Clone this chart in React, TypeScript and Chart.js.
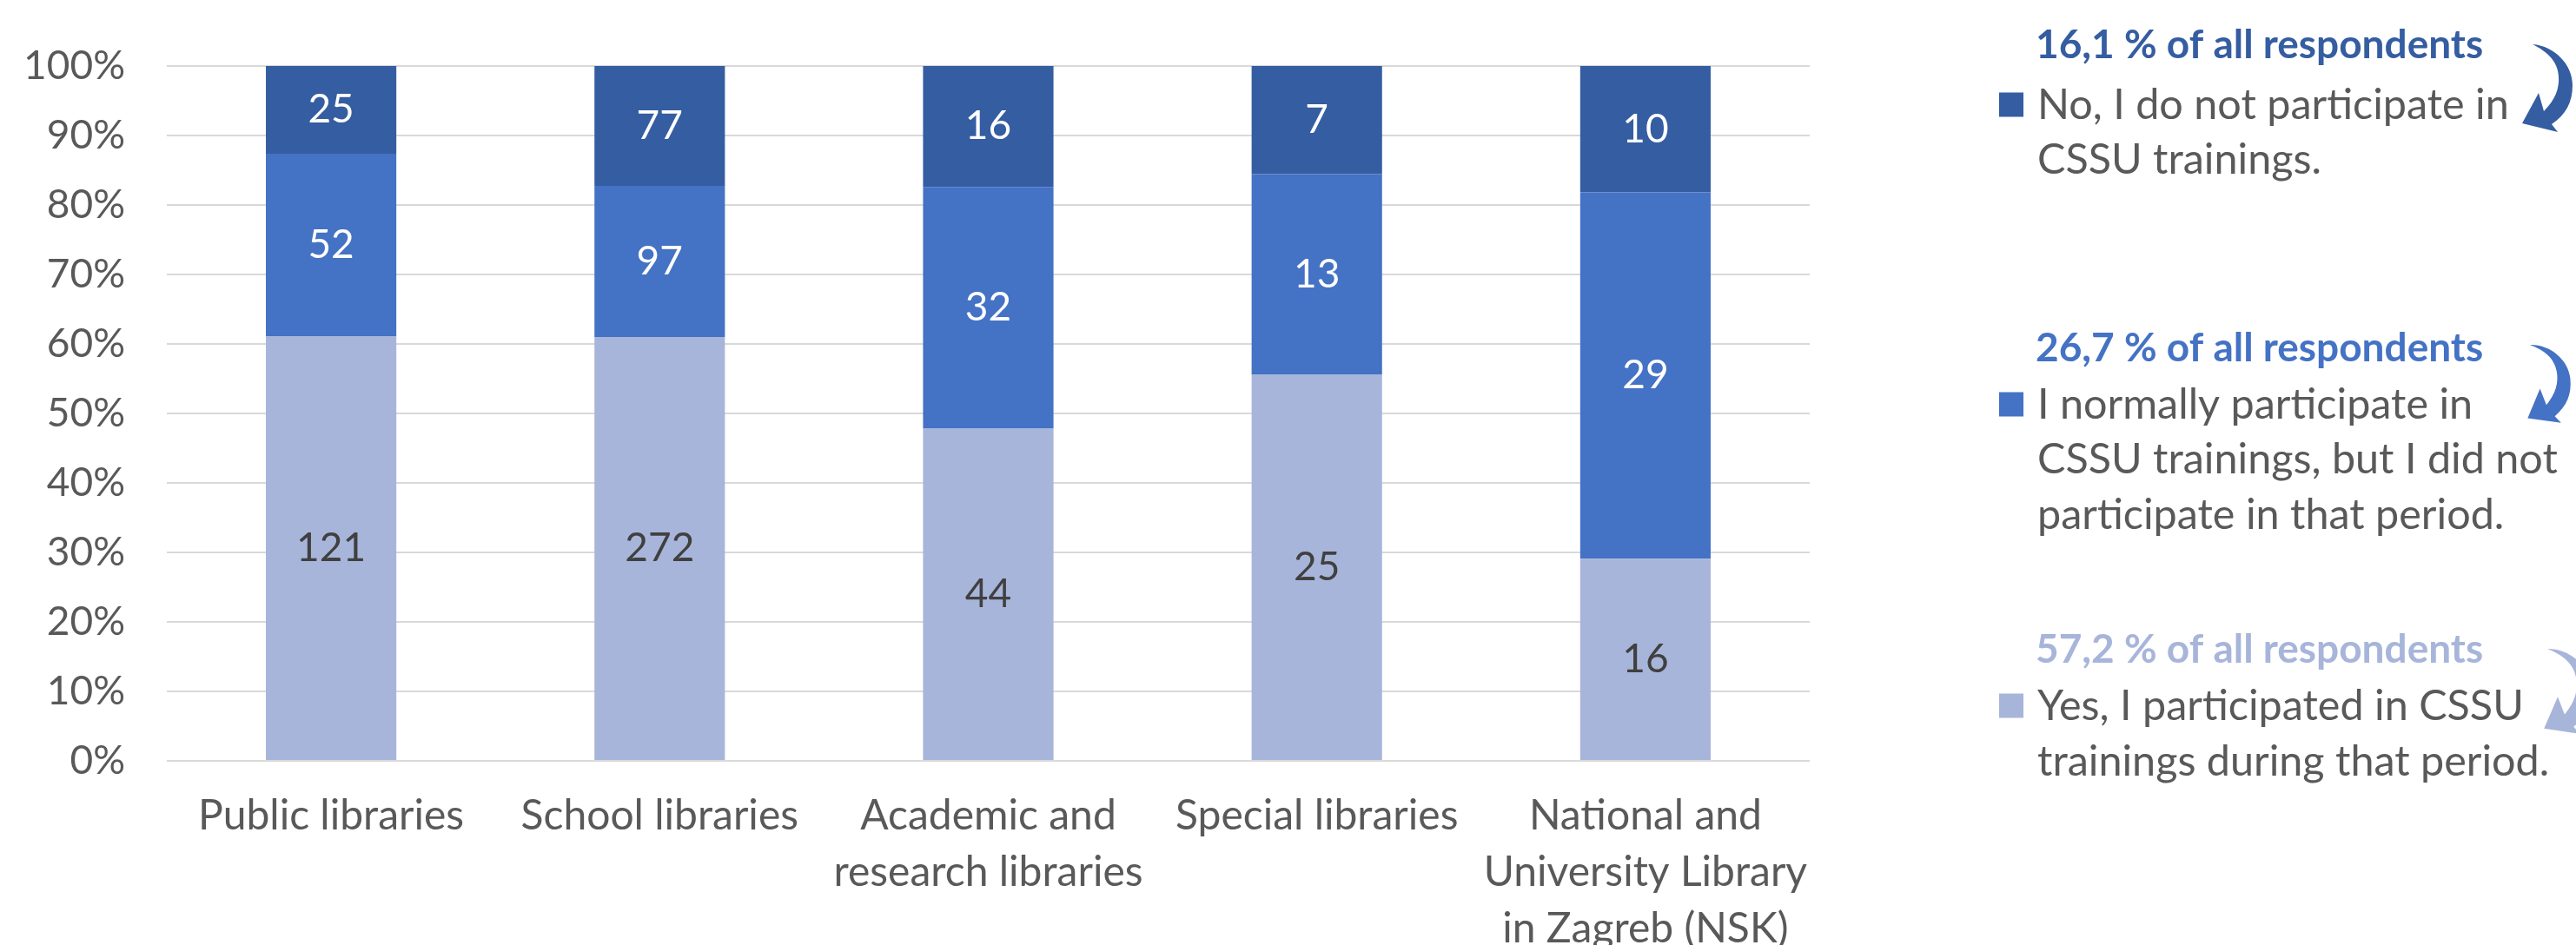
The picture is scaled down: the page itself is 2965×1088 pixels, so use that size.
import React, { useEffect, useRef } from "react";
import { Chart, registerables } from "chart.js";

Chart.register(...registerables);

// ---------- data ----------
const categories: (string | string[])[] = [
  "Public libraries",
  "School libraries",
  ["Academic and", "research libraries"],
  "Special libraries",
  ["National and", "University Library", "in Zagreb (NSK)"],
];
const yesCounts = [121, 272, 44, 25, 16];
const normallyCounts = [52, 97, 32, 13, 29];
const noCounts = [25, 77, 16, 7, 10];

const yesLabel = "Yes, I participated in CSSU trainings during that period.";
const normallyLabel = "I normally participate in CSSU trainings, but I did not participate in that period.";
const noLabel = "No, I do not participate in CSSU trainings.";

const noLegendLines = ["No, I do not participate in", "CSSU trainings."];
const normallyLegendLines = ["I normally participate in", "CSSU trainings, but I did not", "participate in that period."];
const yesLegendLines = ["Yes, I participated in CSSU", "trainings during that period."];

const yTickStep = 10;
const yMax = 100;

// ---------- styles ----------
const COLOR_NO = "#355DA1";
const COLOR_NORMALLY = "#4472C4";
const COLOR_YES = "#A8B5DA";
const TEXT_GRAY = "#595959";
const LABEL_DARK = "#404040";
const FONT = "Lato";
const FONT_SIZE = 46;
const CAT_FONT_SIZE = 48;
const CAT_LINE_HEIGHT = 65;
const LEGEND_FONT_SIZE = 48.5;

const totals = categories.map((_, i) => yesCounts[i] + normallyCounts[i] + noCounts[i]);
const pct = (arr: number[]) => arr.map((v, i) => (v / totals[i]) * 100);
const grandTotal = totals.reduce((a, b) => a + b, 0);
const share = (arr: number[]) =>
  ((arr.reduce((a, b) => a + b, 0) / grandTotal) * 100).toFixed(1).replace(".", ",") + " % of all respondents";

const countsByDataset = [yesCounts, normallyCounts, noCounts];
const labelColors = [LABEL_DARK, "#FFFFFF", "#FFFFFF"];

const ARROW_PATH =
  "M0,0 C26,2 46,24 46,47 C46,67 38,81 22,92 L29,101 L-12,91 L7,56 L13,77 C26,64 31,51 30,37 C29,19 16,8 0,0 Z";

const legendGroups = [
  { title: share(noCounts), color: COLOR_NO, lines: noLegendLines, titleY: 67, lineY: 137, step: 62.5, arrow: { x: 2915, y: 51, s: 1, r: 0 } },
  { title: share(normallyCounts), color: COLOR_NORMALLY, lines: normallyLegendLines, titleY: 416, lineY: 482, step: 63.3, arrow: { x: 2912, y: 397, s: 0.92, r: -0.1 } },
  { title: share(yesCounts), color: COLOR_YES, lines: yesLegendLines, titleY: 763, lineY: 829, step: 64, arrow: { x: 2932, y: 747, s: 1, r: -0.09 } },
];

const barLabelPlugin = {
  id: "barLabels",
  afterDatasetsDraw(chart: any) {
    const ctx = chart.ctx;
    ctx.save();
    ctx.font = `${FONT_SIZE}px ${FONT}`;
    ctx.textAlign = "center";
    ctx.textBaseline = "middle";
    chart.data.datasets.forEach((_: any, di: number) => {
      const meta = chart.getDatasetMeta(di);
      meta.data.forEach((el: any, i: number) => {
        const y = (el.y + el.base) / 2;
        ctx.fillStyle = labelColors[di];
        ctx.fillText(String(countsByDataset[di][i]), el.x, y);
      });
    });
    ctx.restore();
  },
};

const sideLegendPlugin = {
  id: "sideLegend",
  afterDraw(chart: any) {
    const ctx = chart.ctx;
    ctx.save();
    ctx.textBaseline = "alphabetic";
    ctx.textAlign = "left";
    legendGroups.forEach((g) => {
      ctx.font = `bold ${FONT_SIZE}px ${FONT}`;
      ctx.fillStyle = g.color;
      ctx.fillText(g.title, 2343, g.titleY);
      ctx.fillStyle = g.color;
      ctx.fillRect(2301, g.lineY - 16.5 - 14, 28, 28);
      ctx.font = `${LEGEND_FONT_SIZE}px ${FONT}`;
      ctx.fillStyle = TEXT_GRAY;
      g.lines.forEach((ln, k) => {
        ctx.fillText(ln, 2345, g.lineY + k * g.step);
      });
      ctx.save();
      ctx.translate(g.arrow.x, g.arrow.y);
      ctx.rotate(g.arrow.r);
      ctx.scale(g.arrow.s, g.arrow.s);
      ctx.fillStyle = g.color;
      ctx.fill(new Path2D(ARROW_PATH));
      ctx.restore();
    });
    ctx.restore();
  },
};

export default function App() {
  const ref = useRef<HTMLCanvasElement | null>(null);
  useEffect(() => {
    if (!ref.current) return;
    const chart = new Chart(ref.current, {
      type: "bar",
      data: {
        labels: categories as any,
        datasets: [
          { label: yesLabel, data: pct(yesCounts), backgroundColor: COLOR_YES },
          { label: normallyLabel, data: pct(normallyCounts), backgroundColor: COLOR_NORMALLY },
          { label: noLabel, data: pct(noCounts), backgroundColor: COLOR_NO },
        ],
      },
      options: {
        animation: false,
        responsive: false,
        devicePixelRatio: 1,
        datasets: { bar: { categoryPercentage: 1, barPercentage: 0.397, borderWidth: 0 } } as any,
        layout: { padding: { top: 76, right: 882, bottom: 0, left: 0 } },
        plugins: { legend: { display: false }, tooltip: { enabled: false } },
        scales: {
          x: {
            stacked: true,
            grid: { display: false, drawTicks: false },
            border: { display: false },
            ticks: {
              color: TEXT_GRAY,
              font: { family: FONT, size: CAT_FONT_SIZE, lineHeight: CAT_LINE_HEIGHT / CAT_FONT_SIZE },
              padding: 31.5,
              maxRotation: 0,
              autoSkip: false,
            },
            afterFit: (s: any) => {
              s.height = 1088 - 876;
            },
          },
          y: {
            stacked: true,
            min: 0,
            max: yMax,
            grid: { color: "#D9D9D9", lineWidth: 2, drawTicks: false },
            border: { display: false },
            ticks: {
              stepSize: yTickStep,
              color: TEXT_GRAY,
              font: { family: FONT, size: FONT_SIZE },
              padding: 48,
              callback: (v: any) => v + "%",
            },
            afterFit: (s: any) => {
              s.width = 192;
            },
          },
        },
      },
      plugins: [barLabelPlugin, sideLegendPlugin],
    });
    return () => chart.destroy();
  }, []);
  return (
    <div style={{ position: "absolute", left: 0, top: 0, width: 2965, height: 1088, background: "#fff" }}>
      <canvas ref={ref} width={2965} height={1088} style={{ width: 2965, height: 1088, display: "block" }} />
    </div>
  );
}
